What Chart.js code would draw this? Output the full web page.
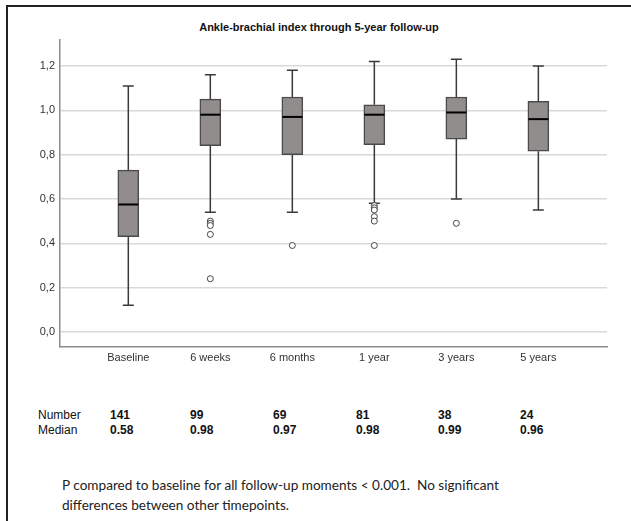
<!DOCTYPE html>
<html>
<head>
<meta charset="utf-8">
<script src="https://cdn.jsdelivr.net/npm/chart.js@4/dist/chart.umd.min.js"></script>
<style>
  html, body { margin: 0; padding: 0; background: #fff; }
  #page { position: relative; width: 631px; height: 521px; overflow: hidden; background: #fff; }
  #frame { position: absolute; left: 6px; top: 5px; width: 640px; height: 540px;
           border-top: 2px solid #222; border-left: 2px solid #222; }
  #title { position: absolute; left: 7px; width: 624px; top: 21px; text-align: center;
           font: bold 11px "Liberation Sans", Arial, sans-serif; color: #111; }
  #chartWrap { position: absolute; left: 0; top: 0; width: 631px; height: 380px; }
  .tbl { position: absolute; font: 12px "Liberation Sans", Arial, sans-serif; color: #111; line-height: 14px; }
  .tbl.val { font-weight: bold; }
  #note { position: absolute; left: 62px; top: 475px; font: 13.6px Lato, "Open Sans", sans-serif;
          color: #222; line-height: 20px; }
</style>
</head>
<body>
<div id="page">
  <div id="frame"></div>
  <div id="title">Ankle-brachial index through 5-year follow-up</div>
  <div id="chartWrap"><canvas id="c" width="631" height="380"></canvas></div>
  <div id="table"></div>
  <div id="note">P compared to baseline for all follow-up moments &lt; 0.001.&nbsp; No significant<br>differences between other timepoints.</div>
</div>
<script>
// Follow-up timepoints
const categories = ['Baseline', '6 weeks', '6 months', '1 year', '3 years', '5 years'];

// Box statistics per timepoint (ankle-brachial index)
const whiskerLow  = [0.12, 0.54, 0.54, 0.58, 0.60, 0.55];
const quartile1   = [0.43, 0.84, 0.80, 0.845, 0.87, 0.815];
const medians     = [0.575, 0.98, 0.97, 0.98, 0.99, 0.96];
const quartile3   = [0.73, 1.05, 1.06, 1.025, 1.06, 1.04];
const whiskerHigh = [1.11, 1.16, 1.18, 1.22, 1.23, 1.20];

// Outlying observations per timepoint
const outliers = [
  [],
  [0.50, 0.49, 0.48, 0.44, 0.24],
  [0.39],
  [0.57, 0.56, 0.55, 0.52, 0.50, 0.39],
  [0.49],
  []
];

// Summary table under the chart
const counts = ['141', '99', '69', '81', '38', '24'];
const medianLabels = ['0.58', '0.98', '0.97', '0.98', '0.99', '0.96'];

const yTicks = [0, 0.2, 0.4, 0.6, 0.8, 1.0, 1.2];

// --- summary table ---
const tableEl = document.getElementById('table');
const colX = [110, 190, 273, 356, 438, 520];
function addText(txt, x, y, cls) {
  const d = document.createElement('div');
  d.className = 'tbl ' + (cls || '');
  d.style.left = x + 'px';
  d.style.top = y + 'px';
  d.textContent = txt;
  tableEl.appendChild(d);
}
addText('Number', 38, 408);
addText('Median', 38, 423);
counts.forEach((t, i) => addText(t, colX[i], 408, 'val'));
medianLabels.forEach((t, i) => addText(t, colX[i], 423, 'val'));

// --- whiskers and medians drawn through the chart scales ---
const boxParts = {
  id: 'boxParts',
  beforeDatasetsDraw(chart) {
    const { ctx, scales: { x, y } } = chart;
    ctx.save();
    ctx.strokeStyle = '#3a3a3a';
    ctx.lineWidth = 1.5;
    const cap = 5.5;
    categories.forEach((_, i) => {
      const cx = x.getPixelForValue(i);
      const yHi = y.getPixelForValue(whiskerHigh[i]);
      const yLo = y.getPixelForValue(whiskerLow[i]);
      const yQ1 = y.getPixelForValue(quartile1[i]);
      const yQ3 = y.getPixelForValue(quartile3[i]);
      ctx.beginPath();
      ctx.moveTo(cx, yQ3); ctx.lineTo(cx, yHi);
      ctx.moveTo(cx - cap, yHi); ctx.lineTo(cx + cap, yHi);
      ctx.moveTo(cx, yQ1); ctx.lineTo(cx, yLo);
      ctx.moveTo(cx - cap, yLo); ctx.lineTo(cx + cap, yLo);
      ctx.stroke();
    });
    ctx.restore();
  },
  afterDatasetsDraw(chart) {
    const { ctx, scales: { x, y } } = chart;
    ctx.save();
    ctx.strokeStyle = '#000';
    ctx.lineWidth = 2;
    const half = 10;
    categories.forEach((_, i) => {
      const cx = x.getPixelForValue(i);
      const ym = y.getPixelForValue(medians[i]);
      ctx.beginPath();
      ctx.moveTo(cx - half, ym); ctx.lineTo(cx + half, ym);
      ctx.stroke();
    });
    ctx.restore();
  }
};

const boxData = categories.map((_, i) => ({ x: i, y: [quartile1[i], quartile3[i]] }));
const outlierData = [];
outliers.forEach((list, i) => list.forEach(v => outlierData.push({ x: i, y: v })));

new Chart(document.getElementById('c'), {
  type: 'bar',
  data: {
    datasets: [
      {
        type: 'scatter',
        data: outlierData,
        pointStyle: 'circle',
        pointRadius: 3,
        pointBackgroundColor: '#fff',
        pointBorderColor: '#444',
        pointBorderWidth: 1,
        order: 0
      },
      {
        type: 'bar',
        data: boxData,
        backgroundColor: '#928d8d',
        borderColor: '#4a4a4a',
        borderWidth: 1.5,
        borderSkipped: false,
        barThickness: 21,
        order: 1
      }
    ]
  },
  options: {
    responsive: false,
    animation: false,
    events: [],
    layout: { padding: { top: 40, left: 0, right: 24, bottom: 0 } },
    plugins: { legend: { display: false }, tooltip: { enabled: false }, title: { display: false } },
    scales: {
      x: {
        type: 'linear',
        offset: false,
        min: -0.833,
        max: 5.837,
        afterBuildTicks(scale) { scale.ticks = categories.map((_, i) => ({ value: i })); },
        afterFit(scale) { scale.height = 33; },
        ticks: {
          autoSkip: false,
          maxRotation: 0,
          padding: 4,
          color: '#333',
          font: { family: '"Liberation Sans", Arial, sans-serif', size: 11 },
          callback: (v) => categories[v]
        },
        grid: { display: false, drawTicks: false },
        border: { display: true, color: '#8c8c8c', width: 1.5 }
      },
      y: {
        type: 'linear',
        min: -0.068,
        max: 1.317,
        afterBuildTicks(scale) { scale.ticks = yTicks.map(v => ({ value: v })); },
        afterFit(scale) { scale.width = 60; },
        ticks: {
          padding: 5,
          color: '#333',
          font: { family: '"Liberation Sans", Arial, sans-serif', size: 11 },
          callback: (v) => v.toFixed(1).replace('.', ',')
        },
        grid: { color: '#d9d9d9', lineWidth: 1.5, drawTicks: false },
        border: { display: true, color: '#8c8c8c', width: 1.5 }
      }
    }
  },
  plugins: [boxParts]
});
</script>
</body>
</html>
